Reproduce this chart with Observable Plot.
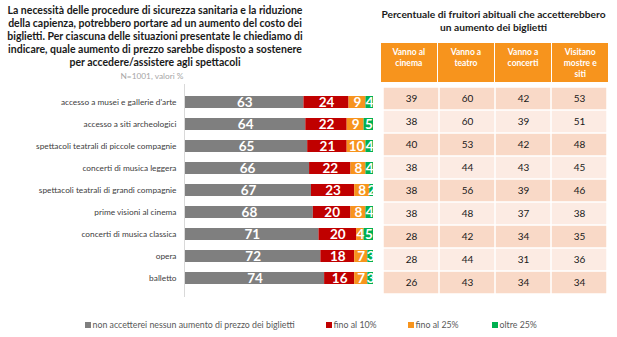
<!DOCTYPE html>
<html>
<head>
<meta charset="utf-8">
<script src="https://cdn.jsdelivr.net/npm/d3@7"></script>
<script src="https://cdn.jsdelivr.net/npm/@observablehq/plot@0.6"></script>
<style>
  body { margin: 0; background: #fff; }
  #root { position: relative; width: 617px; height: 337px; overflow: hidden; background: #fff; font-family: Lato, "Open Sans", sans-serif; }
  .abs { position: absolute; }
  #title { left: 0; top: 4px; width: 310px; text-align: center; font-weight: bold; font-size: 10.5px; line-height: 13px; color: #1a1a1a; white-space: nowrap; }
  #sub { left: 102px; top: 71px; width: 100px; text-align: center; font-size: 8.3px; color: #a6a6a6; }
  #rtitle { left: 370px; top: 8px; width: 247px; text-align: center; font-weight: bold; font-size: 10.2px; line-height: 12.5px; color: #1a1a1a; white-space: nowrap; }
  #head { left: 381px; top: 43px; width: 227px; height: 39px; display: flex; }
  #head div { flex: 1; background: #f7941d; color: #fff; font-weight: bold; font-size: 8.5px; line-height: 11px; text-align: center; padding-top: 4px; box-sizing: border-box; }
  #head div + div { margin-left: 1.5px; }
  .leg { top: 319px; font-size: 8.8px; color: #595959; white-space: nowrap; display: flex; align-items: center; }
  .leg span.sw { display: inline-block; width: 6px; height: 6px; margin-right: 1.5px; }
</style>
</head>
<body>
<div id="root">
  <div id="title" class="abs"></div>
  <div id="sub" class="abs"></div>
  <div id="rtitle" class="abs"></div>
  <div id="head" class="abs"></div>
  <div id="bars" class="abs" style="left:0;top:0"></div>
  <div id="table" class="abs" style="left:370px;top:0"></div>
  <div id="legend"></div>
</div>
<script>
const titleLines = [
  "La necessità delle procedure di sicurezza sanitaria e la riduzione",
  "della capienza, potrebbero portare ad un aumento del costo dei",
  "biglietti. Per ciascuna delle situazioni presentate le chiediamo di",
  "indicare, quale aumento di prezzo sarebbe disposto a sostenere",
  "per accedere/assistere agli spettacoli"
];
const subtitleText = "N=1001, valori %";
const tableTitleLines = ["Percentuale di fruitori abituali che accetterebbero", "un aumento dei biglietti"];

const categories = [
  "accesso a musei e gallerie d'arte",
  "accesso a siti archeologici",
  "spettacoli teatrali di piccole compagnie",
  "concerti di musica leggera",
  "spettacoli teatrali di grandi compagnie",
  "prime visioni al cinema",
  "concerti di musica classica",
  "opera",
  "balletto"
];
const seriesNames = ["non accetterei nessun aumento di prezzo dei biglietti", "fino al 10%", "fino al 25%", "oltre 25%"];
const seriesColors = ["#7f7f7f", "#c00000", "#f7941d", "#00b050"];
const nessuno = [63, 64, 65, 66, 67, 68, 71, 72, 74];
const fino10  = [24, 22, 21, 22, 23, 20, 20, 18, 16];
const fino25  = [9, 9, 10, 8, 8, 8, 4, 7, 7];
const oltre25 = [4, 5, 4, 4, 2, 4, 5, 3, 3];

const tableColumns = ["Vanno al cinema", "Vanno a teatro", "Vanno a concerti", "Visitano mostre e siti"];
const tableHeaderLines = [["Vanno al", "cinema"], ["Vanno a", "teatro"], ["Vanno a", "concerti"], ["Visitano", "mostre e", "siti"]];
const cinema   = [39, 38, 40, 38, 38, 38, 28, 28, 26];
const teatro   = [60, 60, 53, 44, 56, 48, 42, 44, 43];
const concerti = [42, 39, 42, 43, 39, 37, 34, 31, 34];
const mostre   = [53, 51, 48, 45, 46, 38, 35, 36, 34];

// Texts
document.getElementById("title").innerHTML = titleLines.join("<br>");
document.getElementById("sub").textContent = subtitleText;
document.getElementById("rtitle").innerHTML = tableTitleLines.join("<br>");
const head = document.getElementById("head");
tableHeaderLines.forEach(lines => {
  const d = document.createElement("div");
  d.innerHTML = lines.join("<br>");
  head.appendChild(d);
});

// Bars
const seriesValues = [nessuno, fino10, fino25, oltre25];
const barData = [];
seriesNames.forEach((s, si) => categories.forEach((c, ci) => barData.push({cat: c, series: s, value: seriesValues[si][ci]})));

const fontFam = "Lato, 'Open Sans', sans-serif";
const bars = Plot.plot({
  width: 380, height: 337,
  marginLeft: 185, marginRight: 7, marginTop: 84, marginBottom: 40,
  style: {fontFamily: fontFam, background: "transparent"},
  x: {domain: [0, 100], axis: null},
  y: {domain: categories, padding: 0.44, label: null},
  color: {domain: seriesNames, range: seriesColors},
  marks: [
    Plot.ruleX([0], {stroke: "#d9d9d9", strokeWidth: 1, dx: -1}),
    Plot.barX(barData, Plot.stackX({x: "value", y: "cat", fill: "series", z: "series", order: null})),
    Plot.text(barData, Plot.stackX({x: "value", y: "cat", z: "series", order: null, text: d => String(d.value), fill: "white", fontWeight: "bold", fontSize: 13.5})),
    Plot.axisY({tickSize: 0, tickPadding: 9, fontSize: 8.3, fill: "#404040", label: null})
  ]
});
document.getElementById("bars").appendChild(bars);

// Table
const tableValues = [cinema, teatro, concerti, mostre];
const tableData = [];
tableColumns.forEach((col, ki) => categories.forEach((c, ci) => tableData.push({col, cat: c, row: ci, value: tableValues[ki][ci]})));
const table = Plot.plot({
  width: 247, height: 337,
  marginLeft: 11, marginRight: 9, marginTop: 84, marginBottom: 40,
  style: {fontFamily: fontFam, background: "transparent"},
  x: {domain: tableColumns, padding: 0, axis: null},
  y: {domain: categories, padding: 0, axis: null},
  marks: [
    Plot.cell(tableData, {x: "col", y: "cat", fill: d => d.row % 2 === 0 ? "#f9d9c7" : "#fcebe3", inset: 0.75}),
    Plot.text(tableData, {x: "col", y: "cat", text: d => String(d.value), fill: "#1a1a1a", fontSize: 10})
  ]
});
document.getElementById("table").appendChild(table);

// Legend
const legendX = [85, 326, 408, 492];
const legend = document.getElementById("legend");
seriesNames.forEach((s, i) => {
  const el = document.createElement("div");
  el.className = "abs leg";
  el.style.left = legendX[i] + "px";
  el.innerHTML = `<span class="sw" style="background:${seriesColors[i]}"></span>${s}`;
  legend.appendChild(el);
});
</script>
</body>
</html>
